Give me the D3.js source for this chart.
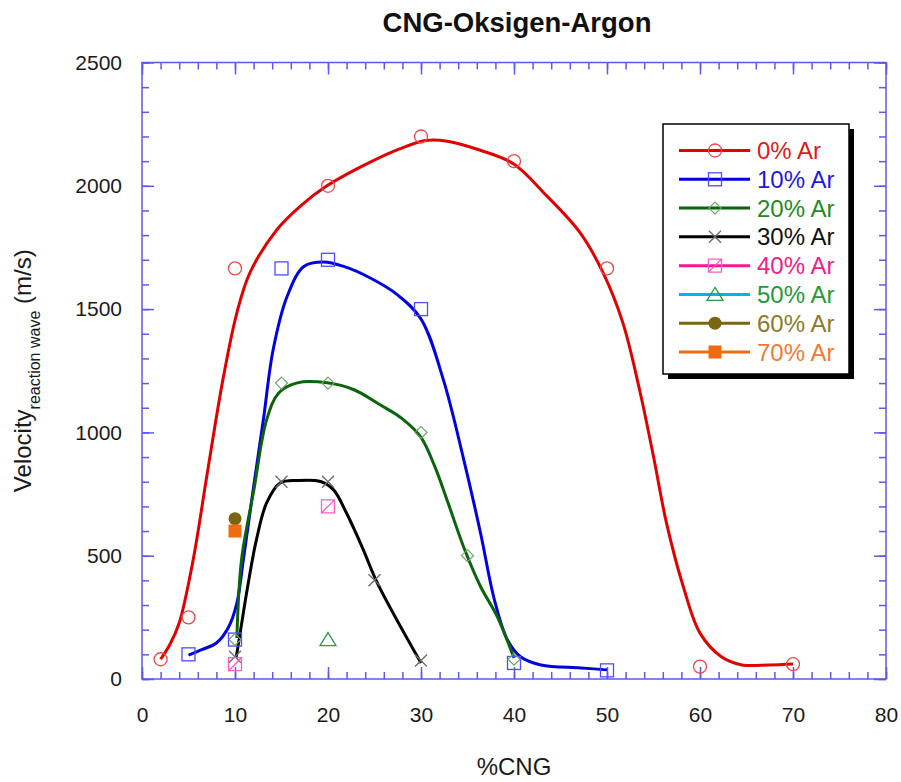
<!DOCTYPE html>
<html><head><meta charset="utf-8">
<script src="https://cdn.jsdelivr.net/npm/d3@7/dist/d3.min.js"></script>
<style>body{margin:0;background:#fff}svg{display:block}text{font-family:"Liberation Sans",Arial,sans-serif}</style>
</head><body><svg id="c" width="901" height="782"></svg>
<script>
// ---------- data ----------
const xTicks = [0,10,20,30,40,50,60,70,80];
const yTicks = [0,500,1000,1500,2000,2500];
const seriesLabels = ["0% Ar","10% Ar","20% Ar","30% Ar","40% Ar","50% Ar","60% Ar","70% Ar"];

// measured points
const ar0_cng = [2,5,10,20,30,40,50,60,70];
const ar0_vel = [80,250,1665,2000,2200,2100,1665,50,60];
const ar10_cng = [5,10,15,20,30,40,50];
const ar10_vel = [100,160,1665,1700,1500,65,35];
const ar20_cng = [10,15,20,30,35,40];
const ar20_vel = [160,1200,1200,1000,500,80];
const ar30_cng = [10,15,20,25,30];
const ar30_vel = [90,800,800,400,75];
const ar40_cng = [10,20];
const ar40_vel = [60,700];
const ar50_cng = [20];
const ar50_vel = [160];
const ar60_cng = [10];
const ar60_vel = [650];
const ar70_cng = [10];
const ar70_vel = [600];

// smoothed fit curves
const fit0_cng = [2,3,4,5.5,7,8.7,10.2,11.6,14.5,17,19.8,24,27.7,30.5,33,36.3,39.9,43.5,47.1,49.6,51.7,53.5,55,56.4,58.2,60,62.3,64.5,67.4,70];
const fit0_vel = [80,140,227,483,830,1214,1485,1647,1822,1917,1998,2086,2150,2184,2180,2145,2090,1960,1810,1646,1445,1173,902,632,375,186,90,57,57,61];
const fit10_cng = [5,6.5,8,9.3,10.2,10.9,12,13.05,14.1,15.6,17.4,19.5,21.7,24.6,27.4,30,32.4,34.6,36.4,37.9,39.3,40.7,42.9,47.2,50];
const fit10_vel = [97,120,146,210,308,483,780,1051,1335,1551,1673,1691,1673,1625,1560,1460,1214,889,592,320,158,90,57,45,37];
const fit20_cng = [10.2,10.7,12,13.4,14.7,16.7,19.9,22.8,25.6,28,30,31.5,32.8,34.7,36.4,38.2,40];
const fit20_vel = [166,483,760,1051,1160,1201,1201,1173,1112,1055,980,860,726,524,375,253,85];
const fit30_cng = [10.1,10.2,11.3,12.3,13.4,14.85,16.7,19.2,20.6,22,23.8,25.3,30];
const fit30_vel = [85,104,361,564,714,795,805,801,767,672,524,390,65];

// ---------- styles ----------
const lineColors = ["#e00000","#0000e0","#0b630b","#000000","#ff1493","#00b0f0","#7a6512","#f06a10"];
const markColors = ["#f04848","#4c4cff","#6aa66a","#6e6e6e","#ff5cc0","#2a9a40","#7a6512","#f06a10"];
const textColors = ["#e21a1a","#1a1ae0","#238a23","#111111","#f0208a","#239a3a","#8a7a2a","#f07a30"];
const markerTypes = ["circle","square","diamond","x","slashsquare","triangle","dot","fsquare"];

const svg = d3.select("#c");
const L=142, R=886, T=62.5, B=679;
const x = d3.scaleLinear().domain([0,80]).range([L,R]);
const y = d3.scaleLinear().domain([0,2500]).range([B,T]);
const axisColor = "#5a5aee";

svg.append("defs").append("clipPath").attr("id","clip").append("rect")
  .attr("x",L).attr("y",T).attr("width",R-L).attr("height",B-T);

// title
svg.append("text").attr("x",517).attr("y",32).attr("text-anchor","middle")
  .attr("font-size",27.5).attr("font-weight","bold").attr("fill","#111").text("CNG-Oksigen-Argon");

// frame
svg.append("rect").attr("x",L).attr("y",T).attr("width",R-L).attr("height",B-T)
  .attr("fill","none").attr("stroke",axisColor).attr("stroke-width",1.5);

const xMinor = d3.range(0,81,2);
const yMinor = d3.range(0,2501,100);
function styleAxis(g){ g.select(".domain").remove(); g.selectAll("line").attr("stroke",axisColor).attr("stroke-width",1.5); }
function ticks(axisFn, scale, vals, size, tr){
  svg.append("g").attr("transform",tr).call(axisFn(scale).tickValues(vals).tickSize(size).tickFormat("")).call(styleAxis);
}
ticks(d3.axisTop, x, xMinor, 7, `translate(0,${B})`);
ticks(d3.axisTop, x, xTicks, 12, `translate(0,${B})`);
ticks(d3.axisBottom, x, xMinor, 7, `translate(0,${T})`);
ticks(d3.axisBottom, x, xTicks, 12, `translate(0,${T})`);
ticks(d3.axisRight, y, yMinor, 7, `translate(${L},0)`);
ticks(d3.axisRight, y, yTicks, 12, `translate(${L},0)`);
ticks(d3.axisLeft, y, yMinor, 7, `translate(${R},0)`);
ticks(d3.axisLeft, y, yTicks, 12, `translate(${R},0)`);

// tick labels
const xl = svg.append("g").attr("transform",`translate(0,${B})`)
  .call(d3.axisBottom(x).tickValues(xTicks).tickSize(0).tickPadding(28).tickFormat(d3.format("d")));
xl.select(".domain").remove();
xl.selectAll("text").attr("font-size",21).attr("fill","#1a1a1a").attr("font-family","Liberation Sans, Arial, sans-serif");
const yl = svg.append("g").attr("transform",`translate(${L},0)`)
  .call(d3.axisLeft(y).tickValues(yTicks).tickSize(0).tickPadding(20).tickFormat(d3.format("d")));
yl.select(".domain").remove();
yl.selectAll("text").attr("font-size",21).attr("fill","#1a1a1a").attr("font-family","Liberation Sans, Arial, sans-serif");

// axis titles
svg.append("text").attr("x",514).attr("y",775).attr("text-anchor","middle")
  .attr("font-size",24).attr("fill","#1a1a1a").text("%CNG");
const yt = svg.append("text").attr("transform",`translate(31,${(T+B)/2}) rotate(-90)`)
  .attr("text-anchor","middle").attr("font-size",24).attr("fill","#1a1a1a");
yt.append("tspan").text("Velocity");
yt.append("tspan").attr("font-size",16).attr("dy",9).text("reaction wave");
yt.append("tspan").attr("dy",-9).text(" (m/s)");

// fit lines
const line = d3.line().x(d=>x(d[0])).y(d=>y(d[1])).curve(d3.curveCatmullRom.alpha(0.5));
const fits = [[fit0_cng,fit0_vel,0],[fit10_cng,fit10_vel,1],[fit20_cng,fit20_vel,2],[fit30_cng,fit30_vel,3]];
const gl = svg.append("g").attr("clip-path","url(#clip)");
fits.forEach(([cx,cy,i])=>{
  gl.append("path").datum(d3.zip(cx,cy)).attr("d",line)
    .attr("fill","none").attr("stroke",lineColors[i]).attr("stroke-width",3).attr("stroke-linejoin","round");
});

// markers
function drawMarker(g, type, cx, cy, color, s){
  const h = s/2;
  if(type==="circle") g.append("circle").attr("cx",cx).attr("cy",cy).attr("r",h).attr("fill","none").attr("stroke",color).attr("stroke-width",1.3);
  else if(type==="square") g.append("rect").attr("x",cx-h).attr("y",cy-h).attr("width",s).attr("height",s).attr("fill","none").attr("stroke",color).attr("stroke-width",1.3);
  else if(type==="diamond") g.append("path").attr("d",`M${cx},${cy-h}L${cx+h},${cy}L${cx},${cy+h}L${cx-h},${cy}Z`).attr("fill","none").attr("stroke",color).attr("stroke-width",1.2);
  else if(type==="x") g.append("path").attr("d",`M${cx-h},${cy-h}L${cx+h},${cy+h}M${cx-h},${cy+h}L${cx+h},${cy-h}`).attr("fill","none").attr("stroke",color).attr("stroke-width",1.4);
  else if(type==="slashsquare") g.append("path").attr("d",`M${cx-h},${cy-h}h${s}v${s}h${-s}ZM${cx-h},${cy+h}L${cx+h},${cy-h}`).attr("fill","none").attr("stroke",color).attr("stroke-width",1.3);
  else if(type==="triangle") g.append("path").attr("d",`M${cx},${cy-h-1}L${cx+h+2},${cy+h}L${cx-h-2},${cy+h}Z`).attr("fill","none").attr("stroke",color).attr("stroke-width",1.3);
  else if(type==="dot") g.append("circle").attr("cx",cx).attr("cy",cy).attr("r",h).attr("fill",color);
  else if(type==="fsquare") g.append("rect").attr("x",cx-h).attr("y",cy-h).attr("width",s).attr("height",s).attr("fill",color);
}
const pts = [[ar0_cng,ar0_vel],[ar10_cng,ar10_vel],[ar20_cng,ar20_vel],[ar30_cng,ar30_vel],
             [ar40_cng,ar40_vel],[ar50_cng,ar50_vel],[ar60_cng,ar60_vel],[ar70_cng,ar70_vel]];
const sizes = [13,13,12,12,13,12,13,13];
const gm = svg.append("g");
pts.forEach(([cx,cy],i)=>{
  d3.zip(cx,cy).forEach(p=>drawMarker(gm, markerTypes[i], x(p[0]), y(p[1]), markColors[i], sizes[i]));
});

// legend
const lx=663, ly=124, lw=186, lh=250;
svg.append("rect").attr("x",lx+5).attr("y",ly+5).attr("width",lw).attr("height",lh).attr("fill","#000");
svg.append("rect").attr("x",lx).attr("y",ly).attr("width",lw).attr("height",lh).attr("fill","#fff").attr("stroke","#000").attr("stroke-width",1.5);
const legY = d3.scalePoint().domain(seriesLabels).range([150.5,352]);
seriesLabels.forEach((name,i)=>{
  const yy = legY(name);
  const g = svg.append("g");
  g.append("line").attr("x1",679).attr("x2",750).attr("y1",yy).attr("y2",yy).attr("stroke",lineColors[i]).attr("stroke-width",3);
  drawMarker(g, markerTypes[i], 715, yy, markColors[i], sizes[i]);
  g.append("text").attr("x",757).attr("y",yy+8.5).attr("font-size",24).attr("fill",textColors[i]).text(name);
});
</script></body></html>
